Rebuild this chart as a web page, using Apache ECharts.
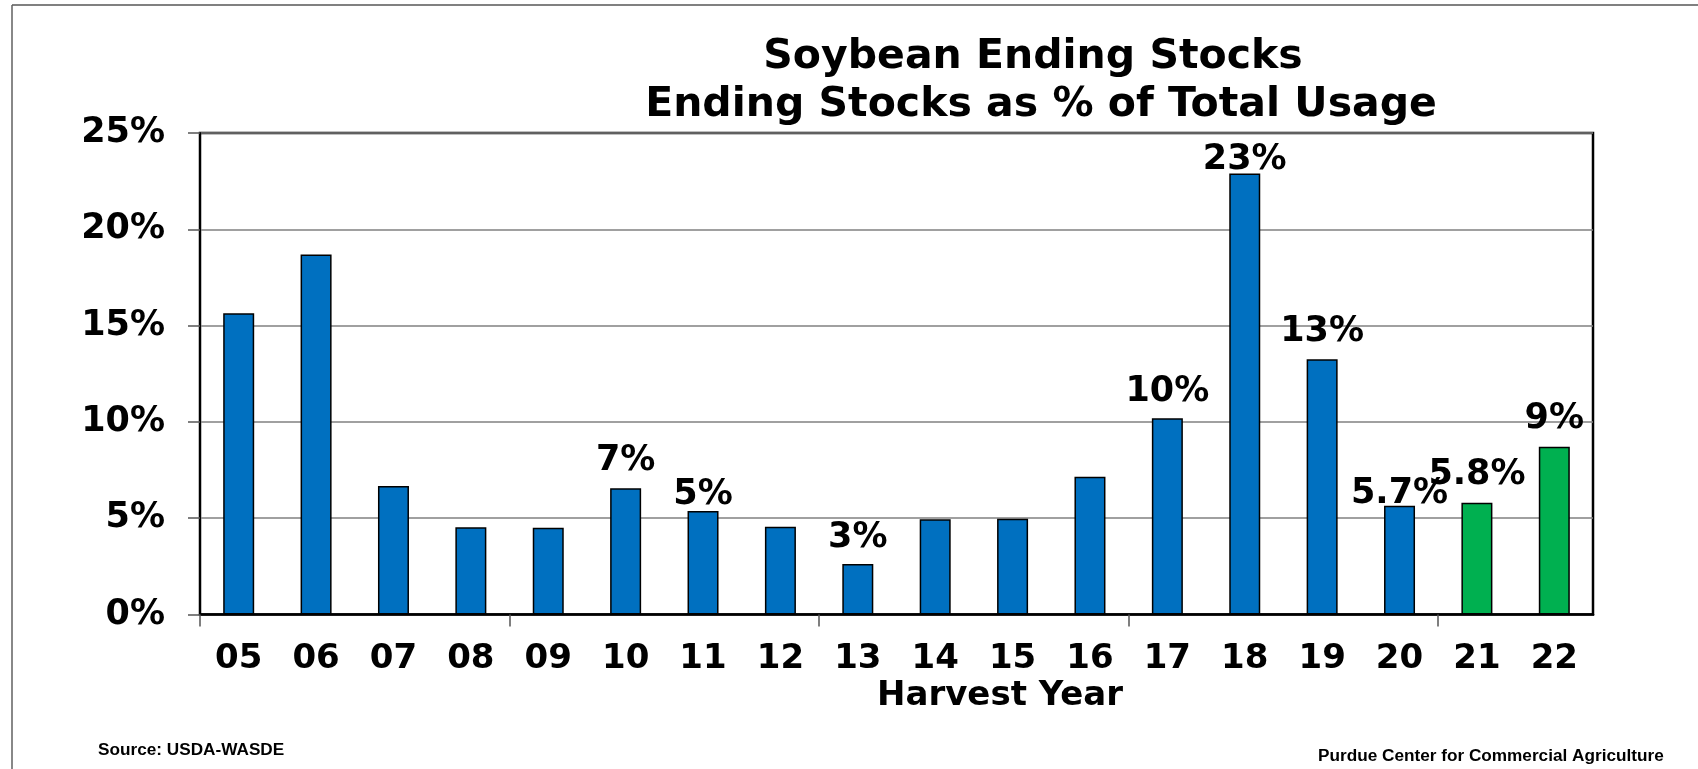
<!DOCTYPE html>
<html>
<head>
<meta charset="utf-8">
<title>Soybean Ending Stocks</title>
<script src="https://cdn.jsdelivr.net/npm/echarts@6/dist/echarts.min.js"></script>
<style>
  html, body { margin: 0; padding: 0; background: #fff; }
  #chart { width: 1698px; height: 769px; }
</style>
</head>
<body>
<div id="chart"></div>
<script>
const years = ['05', '06', '07', '08', '09', '10', '11', '12', '13', '14', '15', '16', '17', '18', '19', '20', '21', '22'];
const stocksPct = [15.64, 18.69, 6.67, 4.53, 4.50, 6.55, 5.38, 4.56, 2.62, 4.94, 4.97, 7.15, 10.19, 22.9, 13.25, 5.65, 5.80, 8.71];
const barLabels = ['', '', '', '', '', '7%', '5%', '', '3%', '', '', '', '10%', '23%', '13%', '5.7%', '5.8%', '9%'];
const projectedYears = ['21', '22'];
const yTicks = [0, 5, 10, 15, 20, 25];

// gap between each label and its bar, px
const labelLift = [0, 0, 0, 0, 0, 10, -2, 0, 9, 0, 0, 0, 9, -4, 10, -6, 10, 10];

const FONT = "'DejaVu Sans', Verdana, sans-serif";
const SMALL_FONT = "'Liberation Sans', Arial, sans-serif";

const chart = echarts.init(document.getElementById('chart'));

const barData = stocksPct.map((v, i) => {
  const item = { value: v };
  if (projectedYears.includes(years[i])) {
    item.itemStyle = { color: '#00B050' };
  }
  if (barLabels[i]) {
    item.label = { show: true, formatter: barLabels[i], distance: labelLift[i] };
  }
  return item;
});

// helper axis for the tick marks between every 4th year (no tick at the right end)
const boundaries = Array.from({ length: years.length + 1 }, (_, i) => String(i));

chart.setOption({
  animation: false,
  backgroundColor: '#fff',
  grid: {
    left: 200,
    right: 105,
    top: 133,
    bottom: 154.5,
    show: true,
    borderColor: '#000',
    borderWidth: 2.5
  },
  xAxis: [{
    type: 'category',
    data: years,
    boundaryGap: true,
    axisLine: { lineStyle: { color: '#000', width: 2.5 } },
    axisTick: { show: false },
    axisLabel: {
      interval: 0,
      margin: 28,
      color: '#000',
      fontFamily: FONT,
      fontWeight: 'bold',
      fontSize: 34
    }
  }, {
    type: 'category',
    data: boundaries,
    boundaryGap: false,
    position: 'bottom',
    axisLine: { show: false },
    axisLabel: { show: false },
    axisTick: {
      show: true,
      length: 12,
      interval: (idx) => idx % 4 === 0 && idx < years.length,
      lineStyle: { color: '#555', width: 1.5 }
    },
    splitLine: { show: false }
  }],
  yAxis: {
    type: 'value',
    min: yTicks[0],
    max: yTicks[yTicks.length - 1],
    interval: yTicks[1] - yTicks[0],
    axisLine: { show: true, lineStyle: { color: '#000', width: 2 } },
    axisTick: { show: true, length: 12, lineStyle: { color: '#555', width: 1.5 } },
    axisLabel: {
      formatter: '{value}%',
      margin: 35,
      color: '#000',
      fontFamily: FONT,
      fontWeight: 'bold',
      fontSize: 35
    },
    splitLine: { lineStyle: { color: '#808080', width: 1.5 } }
  },
  series: [{
    type: 'bar',
    xAxisIndex: 0,
    data: barData,
    barWidth: 31,
    itemStyle: { color: '#0070C0', borderColor: '#000', borderWidth: 1.5 },
    label: {
      show: false,
      position: 'top',
      color: '#000',
      fontFamily: FONT,
      fontWeight: 'bold',
      fontSize: 35
    },
    emphasis: { disabled: true }
  }],
  graphic: [
    { type: 'line', shape: { x1: 12, y1: 5, x2: 1698, y2: 5 }, style: { stroke: '#808080', lineWidth: 2 } },
    { type: 'line', shape: { x1: 12, y1: 5, x2: 12, y2: 769 }, style: { stroke: '#606060', lineWidth: 1.5 } },
    {
      type: 'text', x: 1033, y: 57,
      style: { text: 'Soybean Ending Stocks', font: 'bold 41px ' + FONT, fill: '#000', textAlign: 'center', textVerticalAlign: 'middle' }
    },
    {
      type: 'text', x: 1041, y: 105.5,
      style: { text: 'Ending Stocks as % of Total Usage', font: 'bold 41px ' + FONT, fill: '#000', textAlign: 'center', textVerticalAlign: 'middle' }
    },
    {
      type: 'text', x: 1000, y: 696,
      style: { text: 'Harvest Year', font: 'bold 34px ' + FONT, fill: '#000', textAlign: 'center', textVerticalAlign: 'middle' }
    },
    {
      type: 'text', x: 98, y: 750,
      style: { text: 'Source: USDA-WASDE', font: 'bold 17.2px ' + SMALL_FONT, fill: '#000', textAlign: 'left', textVerticalAlign: 'middle' }
    },
    {
      type: 'text', x: 1318, y: 756,
      style: { text: 'Purdue Center for Commercial Agriculture', font: 'bold 17.2px ' + SMALL_FONT, fill: '#000', textAlign: 'left', textVerticalAlign: 'middle' }
    }
  ]
});
</script>
</body>
</html>
